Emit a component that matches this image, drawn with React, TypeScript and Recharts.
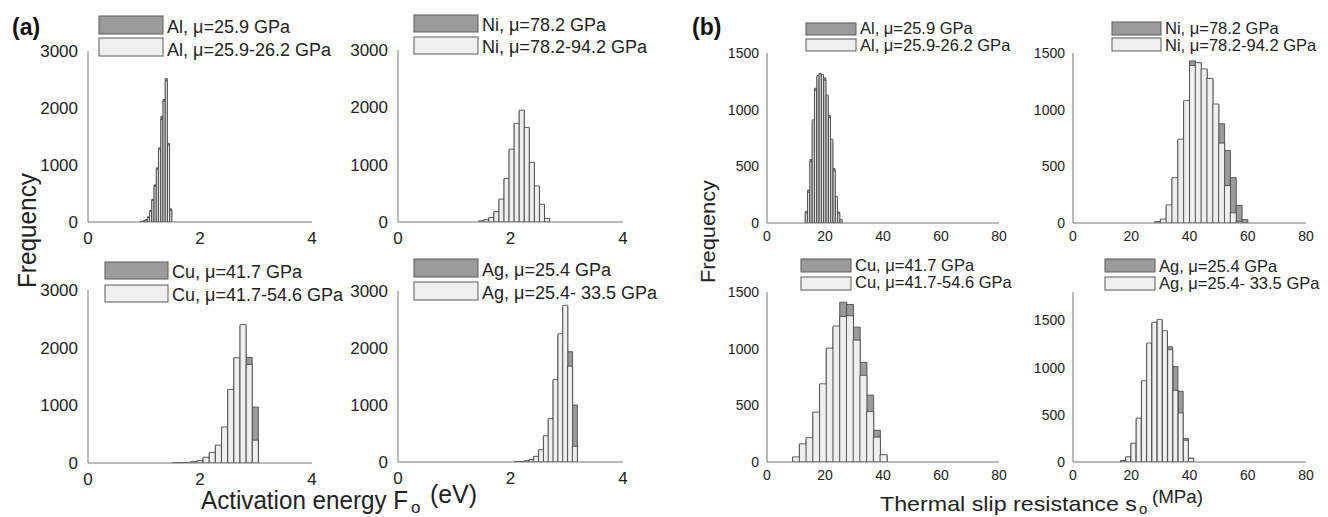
import React from "react";
import { ComposedChart, Bar, XAxis, YAxis } from "recharts";

// (a) activation energy F_o (eV) — bin centres, counts for fixed μ (dark) and μ range (light)
const alEnergyBins = [0.96, 1.0, 1.04, 1.08, 1.12, 1.16, 1.2, 1.24, 1.28, 1.32, 1.36, 1.4, 1.44, 1.48];
const alEnergyFixed = [10, 20, 40, 90, 200, 400, 650, 950, 1300, 1850, 2150, 2520, 1380, 230];
const alEnergyRange = [8, 18, 35, 80, 190, 380, 630, 920, 1280, 1800, 2120, 2480, 1350, 200];

const niEnergyBins = [1.48, 1.57, 1.66, 1.75, 1.84, 1.93, 2.02, 2.11, 2.2, 2.29, 2.38, 2.47, 2.56, 2.65];
const niEnergyFixed = [15, 35, 70, 170, 390, 750, 1250, 1700, 1940, 1640, 1030, 620, 300, 50];
const niEnergyRange = [20, 40, 80, 180, 400, 760, 1270, 1720, 1950, 1650, 1040, 630, 310, 60];

const cuEnergyBins = [1.56, 1.67, 1.78, 1.89, 2.0, 2.11, 2.22, 2.33, 2.44, 2.55, 2.66, 2.77, 2.88, 2.99];
const cuEnergyFixed = [3, 5, 10, 20, 35, 90, 170, 300, 610, 1260, 1810, 2380, 1830, 970];
const cuEnergyRange = [3, 5, 10, 20, 40, 100, 185, 310, 625, 1275, 1825, 2400, 1710, 395];

const agEnergyBins = [2.112, 2.198, 2.284, 2.37, 2.456, 2.542, 2.628, 2.714, 2.8, 2.886, 2.972, 3.058, 3.144];
const agEnergyFixed = [4, 8, 18, 38, 95, 205, 450, 750, 1430, 2230, 2720, 1935, 1000];
const agEnergyRange = [4, 8, 20, 40, 100, 215, 460, 760, 1450, 2250, 2750, 1680, 275];

// (b) thermal slip resistance s_o (MPa)
const alSlipBins = [13.6, 14.4, 15.2, 16.0, 16.8, 17.6, 18.4, 19.2, 20.0, 20.8, 21.6, 22.4, 23.2, 24.0, 24.8, 25.6];
const alSlipFixed = [100, 290, 560, 890, 1190, 1290, 1320, 1300, 1280, 1120, 950, 720, 480, 220, 95, 25];
const alSlipRange = [90, 270, 540, 910, 1170, 1300, 1315, 1310, 1260, 1130, 930, 740, 460, 235, 85, 30];

const niSlipBins = [29, 31, 33, 35, 37, 39, 41, 43, 45, 47, 49, 51, 53, 55, 57, 59];
const niSlipFixed = [10, 30, 150, 390, 730, 1070, 1430, 1410, 1350, 1265, 1040, 875, 640, 400, 155, 30];
const niSlipRange = [10, 35, 160, 400, 740, 1080, 1390, 1415, 1360, 1275, 1050, 705, 330, 90, 15, 0];

const cuSlipBins = [10.0, 12.32, 14.64, 16.96, 19.28, 21.6, 23.92, 26.24, 28.56, 30.88, 33.2, 35.52, 37.84, 40.16];
const cuSlipFixed = [40, 150, 205, 430, 680, 995, 1190, 1410, 1390, 1190, 880, 590, 280, 60];
const cuSlipRange = [45, 160, 215, 440, 690, 1005, 1200, 1285, 1290, 1075, 765, 445, 220, 65];

const agSlipBins = [17.2, 19.0, 20.8, 22.6, 24.4, 26.2, 28.0, 29.8, 31.6, 33.4, 35.2, 37.0, 38.8, 40.6];
const agSlipFixed = [15, 50, 195, 460, 850, 1250, 1470, 1500, 1380, 1220, 1010, 750, 250, 40];
const agSlipRange = [15, 55, 200, 465, 860, 1260, 1480, 1510, 1390, 1190, 760, 520, 230, 40];

const energyTicks = [0, 2, 4];
const slipTicks = [0, 20, 40, 60, 80];
const energyCountTicks = [0, 1000, 2000, 3000];
const slipCountTicks = [0, 500, 1000, 1500];

const legendAl = ["Al, μ=25.9 GPa", "Al, μ=25.9-26.2 GPa"];
const legendNi = ["Ni, μ=78.2 GPa", "Ni, μ=78.2-94.2 GPa"];
const legendCu = ["Cu, μ=41.7 GPa", "Cu, μ=41.7-54.6 GPa"];
const legendAg = ["Ag, μ=25.4 GPa", "Ag, μ=25.4- 33.5 GPa"];

const FONT = '"Liberation Sans", Arial, Helvetica, sans-serif';
const DARK = "#9b9b9b";
const LIGHT = "#efefef";
const EDGE = "#3c3c3c";
const AXIS = "#777";
const INK = "#222";

type PanelProps = {
  x0: number;
  x1: number;
  yTop: number;
  y0: number;
  bins: number[];
  fixed: number[];
  range: number[];
  xMax: number;
  xTicks: number[];
  yMax: number;
  yTicks: number[];
  font: number;
  xMargin: number;
  yMargin: number;
};

function Panel(p: PanelProps) {
  const data = p.bins.map((x, i) => ({ x, fixed: p.fixed[i], range: p.range[i] }));
  const w = p.x1 - p.x0;
  const h = p.y0 - p.yTop;
  const tick = { fontSize: p.font, fill: INK, fontFamily: FONT };
  return (
    <div style={{ position: "absolute", left: p.x0 - 60, top: p.yTop - 10 }}>
      <ComposedChart
        width={w + 70}
        height={h + 50}
        data={data}
        margin={{ top: 10, right: 10, bottom: 10, left: 0 }}
        barGap={0}
        barCategoryGap={0}
      >
        <XAxis
          xAxisId="fixed"
          dataKey="x"
          type="number"
          domain={[0, p.xMax]}
          ticks={p.xTicks}
          interval={0}
          height={30}
          tick={tick}
          tickLine={false}
          tickMargin={p.xMargin}
          axisLine={{ stroke: AXIS }}
          allowDataOverflow
        />
        <XAxis xAxisId="range" dataKey="x" type="number" domain={[0, p.xMax]} hide allowDataOverflow />
        <YAxis
          type="number"
          domain={[0, p.yMax]}
          ticks={p.yTicks}
          interval={0}
          width={60}
          tick={tick}
          tickLine={false}
          tickMargin={p.yMargin}
          axisLine={{ stroke: AXIS }}
          allowDataOverflow
        />
        <Bar xAxisId="fixed" dataKey="fixed" fill={DARK} stroke={EDGE} strokeWidth={0.8} isAnimationActive={false} />
        <Bar xAxisId="range" dataKey="range" fill={LIGHT} stroke={EDGE} strokeWidth={0.8} isAnimationActive={false} />
      </ComposedChart>
    </div>
  );
}

type LegendProps = { x: number; w: number; rows: number[]; h: number; base: number[]; labels: string[]; font: number };

function Legend({ x, w, rows, h, base, labels, font }: LegendProps) {
  return (
    <g>
      {labels.map((t, i) => (
        <g key={t}>
          <rect x={x} y={rows[i]} width={w} height={h} fill={i === 0 ? DARK : LIGHT} stroke="#5a5a5a" strokeWidth={1} />
          <text x={x + w + 4} y={base[i]} fontSize={font} fill={INK} fontFamily={FONT}>
            {t}
          </text>
        </g>
      ))}
    </g>
  );
}

export default function App() {
  const a = { xMax: 4, xTicks: energyTicks, yMax: 3000, yTicks: energyCountTicks, font: 17, xMargin: 4, yMargin: 4 };
  const b = { xMax: 80, xTicks: slipTicks, yTicks: slipCountTicks, font: 14, xMargin: 2, yMargin: 2 };
  return (
    <div style={{ position: "absolute", left: 0, top: 0, width: 1328, height: 517, background: "#fff", overflow: "hidden" }}>
      <Panel {...a} x0={88} x1={312} yTop={51} y0={222} bins={alEnergyBins} fixed={alEnergyFixed} range={alEnergyRange} />
      <Panel {...a} x0={398} x1={623} yTop={50} y0={222} bins={niEnergyBins} fixed={niEnergyFixed} range={niEnergyRange} />
      <Panel {...a} x0={88} x1={312} yTop={290} y0={463} bins={cuEnergyBins} fixed={cuEnergyFixed} range={cuEnergyRange} />
      <Panel {...a} x0={398} x1={623} yTop={291} y0={462} bins={agEnergyBins} fixed={agEnergyFixed} range={agEnergyRange} />
      <Panel {...b} yMax={1500} x0={767} x1={999} yTop={53} y0={223} bins={alSlipBins} fixed={alSlipFixed} range={alSlipRange} />
      <Panel {...b} yMax={1500} x0={1073} x1={1306} yTop={53} y0={223} bins={niSlipBins} fixed={niSlipFixed} range={niSlipRange} />
      <Panel {...b} yMax={1500} x0={767} x1={999} yTop={292} y0={462} bins={cuSlipBins} fixed={cuSlipFixed} range={cuSlipRange} />
      <Panel {...b} yMax={1800} x0={1073} x1={1306} yTop={292} y0={462} bins={agSlipBins} fixed={agSlipFixed} range={agSlipRange} />

      <svg width={1328} height={517} style={{ position: "absolute", left: 0, top: 0, pointerEvents: "none" }}>
        <text x={12} y={35} fontSize={23} fontWeight="bold" fill="#111" fontFamily={FONT}>(a)</text>
        <text x={692} y={35} fontSize={23} fontWeight="bold" fill="#111" fontFamily={FONT}>(b)</text>

        <Legend x={99} w={64} rows={[16, 38]} h={18} base={[33, 56]} labels={legendAl} font={18} />
        <Legend x={414} w={64} rows={[15, 37]} h={17} base={[31, 53]} labels={legendNi} font={18} />
        <Legend x={105} w={63} rows={[262, 285]} h={17} base={[278, 301]} labels={legendCu} font={18} />
        <Legend x={414} w={64} rows={[259, 282]} h={18} base={[276, 299]} labels={legendAg} font={18} />
        <Legend x={806} w={50} rows={[23, 39]} h={12} base={[34, 51]} labels={legendAl} font={16.5} />
        <Legend x={1112} w={49} rows={[22, 38]} h={13} base={[34, 51]} labels={legendNi} font={16.5} />
        <Legend x={801} w={50} rows={[259, 277]} h={13} base={[271, 288]} labels={legendCu} font={16.5} />
        <Legend x={1105} w={50} rows={[259, 277]} h={13} base={[272, 289]} labels={legendAg} font={16.5} />

        <text transform="translate(36,230.5) rotate(-90)" textAnchor="middle" fontSize={26} fill={INK} fontFamily={FONT} textLength={115} lengthAdjust="spacingAndGlyphs">Frequency</text>
        <text transform="translate(715,231.5) rotate(-90)" textAnchor="middle" fontSize={21} fill={INK} fontFamily={FONT} textLength={103} lengthAdjust="spacingAndGlyphs">Frequency</text>

        <text x={201} y={509} fontSize={25} fill={INK} fontFamily={FONT} textLength={207} lengthAdjust="spacingAndGlyphs">Activation energy F</text>
        <text x={411} y={513} fontSize={17} fill={INK} fontFamily={FONT}>o</text>
        <text x={430} y={503} fontSize={25} fill={INK} fontFamily={FONT} textLength={47} lengthAdjust="spacingAndGlyphs">(eV)</text>

        <text x={880} y={511} fontSize={21} fill={INK} fontFamily={FONT} textLength={257} lengthAdjust="spacingAndGlyphs">Thermal slip resistance s</text>
        <text x={1139} y={514} fontSize={15} fill={INK} fontFamily={FONT}>o</text>
        <text x={1152} y={503} fontSize={18} fill={INK} fontFamily={FONT} textLength={51} lengthAdjust="spacingAndGlyphs">(MPa)</text>
      </svg>
    </div>
  );
}
